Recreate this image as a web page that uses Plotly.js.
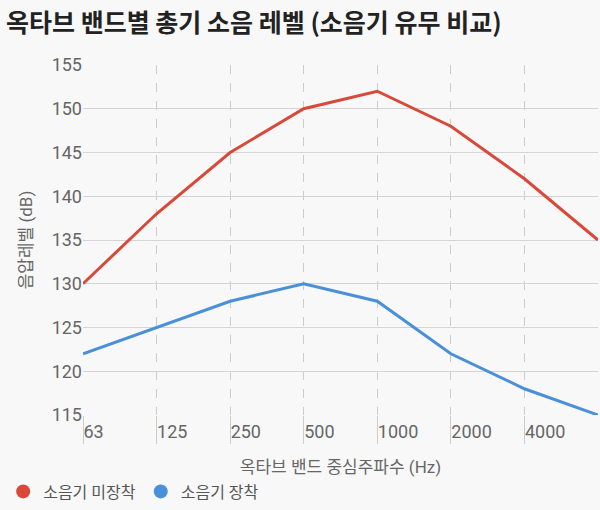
<!DOCTYPE html>
<html><head><meta charset="utf-8">
<script src="https://cdn.plot.ly/plotly-3.0.1.min.js"></script>
<style>body{margin:0;background:#f8f8f8}</style>
</head><body>
<div id="chart" style="width:600px;height:510px"></div>
<script>
var bands = ['63', '125', '250', '500', '1000', '2000', '4000', '8000'];
var shownBands = ['63', '125', '250', '500', '1000', '2000', '4000'];
var noMuffler = [130, 138, 145, 150, 152, 148, 142, 135];
var withMuffler = [122, 125, 128, 130, 128, 122, 118, 115];
var names = ['소음기 미장착', '소음기 장착'];
var colors = ['#d9493a', '#4a90d9'];

var data = [
  {x: bands, y: noMuffler, name: names[0], type: 'scatter', mode: 'lines', showlegend: false,
   line: {color: colors[0], width: 3}},
  {x: bands, y: withMuffler, name: names[1], type: 'scatter', mode: 'lines', showlegend: false,
   line: {color: colors[1], width: 3}},
  // legend entries drawn as dots
  {x: [null], y: [null], name: names[0], type: 'scatter', mode: 'markers',
   marker: {color: colors[0], size: 14}},
  {x: [null], y: [null], name: names[1], type: 'scatter', mode: 'markers',
   marker: {color: colors[1], size: 14}}
];

var layout = {
  width: 600, height: 510,
  paper_bgcolor: '#f8f8f8', plot_bgcolor: '#f8f8f8',
  font: {family: 'Roboto, Noto Sans CJK KR, sans-serif', color: '#666', size: 17},
  title: {text: '옥타브 밴드별 총기 소음 레벨 (소음기 유무 비교)', x: 0.01, xanchor: 'left', y: 0.972,
          font: {family: 'Noto Sans CJK KR', size: 25, color: '#222', weight: 'bold'}},
  margin: {l: 83, r: 2, t: 65, b: 93},
  showlegend: true,
  legend: {orientation: 'h', x: -0.155, y: -0.17, xanchor: 'left', yanchor: 'top',
           font: {size: 16, color: '#555'}, itemwidth: 20, tracegroupgap: 0},
  xaxis: {
    type: 'category', range: [0, 7], showgrid: true, griddash: 'dash', gridcolor: '#ccc',
    tickvals: shownBands, ticks: 'outside', ticklen: 28, tickcolor: '#ccc', tickwidth: 1,
    ticklabelposition: 'outside right', tickfont: {size: 18, color: '#666'},
    title: {text: '옥타브 밴드 중심주파수 (Hz)', standoff: 20, font: {size: 17, color: '#666'}},
    showline: false, zeroline: false
  },
  yaxis: {
    range: [115, 155], dtick: 5, gridcolor: '#d4d4d4', zeroline: false,
    ticks: '', tickfont: {size: 18, color: '#666'},
    title: {text: '음압레벨 (dB)', standoff: 14, font: {size: 17, color: '#666'}}
  }
};

Plotly.newPlot('chart', data, layout, {displayModeBar: false});
</script>
</body></html>
